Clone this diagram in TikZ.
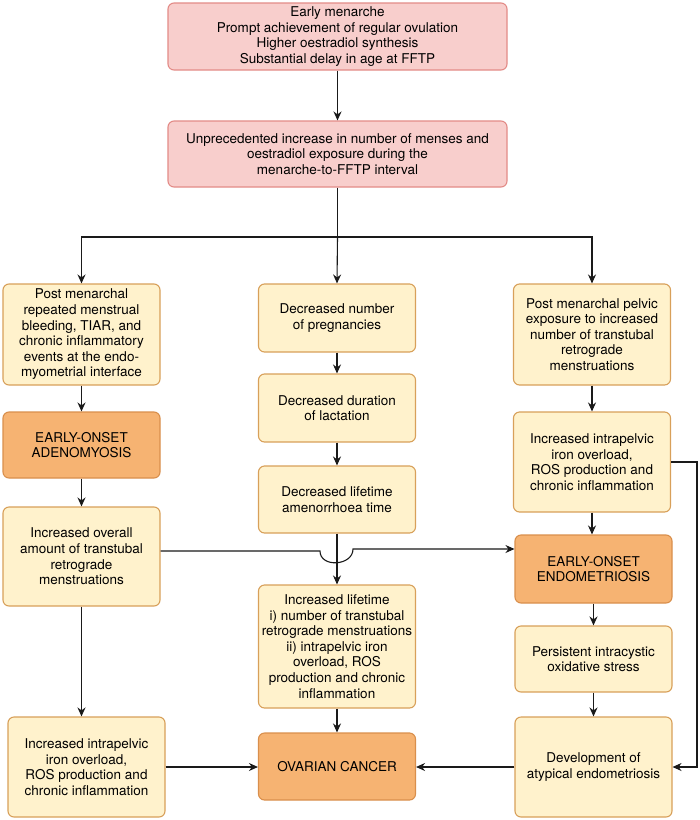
\documentclass[tikz,border=0pt]{standalone}
\usepackage{fontspec}
\setmainfont{TeX Gyre Heros}
\usetikzlibrary{arrows.meta}
\definecolor{pinkfill}{HTML}{F8CECC}
\definecolor{pinkdraw}{HTML}{E38B87}
\definecolor{yelfill}{HTML}{FFF2CC}
\definecolor{yeldraw}{HTML}{D8A05A}
\definecolor{orafill}{HTML}{F6B372}
\definecolor{oradraw}{HTML}{D98F4C}
\definecolor{linec}{HTML}{1A1A1A}
\tikzset{
  box/.style={rectangle, rounded corners=6pt, line width=1.1pt, align=center, inner sep=2pt,
    font=\fontsize{13.5}{15.6}\selectfont, text=black},
  pinkbox/.style={box, fill=pinkfill, draw=pinkdraw, minimum width=339pt},
  yelbox/.style={box, fill=yelfill, draw=yeldraw, minimum width=157pt},
  orabox/.style={box, fill=orafill, draw=oradraw, minimum width=157pt},
  conn/.style={draw=linec, line width=1.1pt},
  arr/.style={conn, -{Stealth[length=9pt,width=8pt]}}
}
\begin{document}
\begin{tikzpicture}[x=1pt,y=-1pt]
\useasboundingbox (0,0) rectangle (700,820);
\fill[white] (0,0) rectangle (700,820);

\node[pinkbox, minimum height=67pt] (b1) at (337.5,36.5) {Early menarche\\Prompt achievement of regular ovulation\\Higher oestradiol synthesis\\Substantial delay in age at FFTP};
\node[pinkbox, minimum height=66pt] (b2) at (337.5,154) {Unprecedented increase in number of menses and\\oestradiol exposure during the\\menarche-to-FFTP interval};

\node[yelbox, minimum height=101pt] (L1) at (81.5,334.5) {Post menarchal\\repeated menstrual\\bleeding, TIAR, and\\chronic inflammatory\\events at the endo-\\myometrial interface};
\node[orabox, minimum height=66pt] (L2) at (81.5,445) {EARLY-ONSET\\ADENOMYOSIS};
\node[yelbox, minimum height=99pt] (L3) at (81.5,556.5) {Increased overall\\amount of transtubal\\retrograde\\menstruations};
\node[yelbox, minimum height=100pt] (L4) at (86.5,767) {Increased intrapelvic\\iron overload,\\ROS production and\\chronic inflammation};

\node[yelbox, minimum height=68pt] (M1) at (337,318) {Decreased number\\of pregnancies};
\node[yelbox, minimum height=68pt] (M2) at (337,408) {Decreased duration\\of lactation};
\node[yelbox, minimum height=67pt] (M3) at (337,499.5) {Decreased lifetime\\amenorrhoea time};
\node[yelbox, minimum height=123pt] (M4) at (337,646.5) {Increased lifetime\\i) number of transtubal\\retrograde menstruations\\ii) intrapelvic iron\\overload, ROS\\production and chronic\\inflammation};
\node[orabox, minimum height=67pt] (M5) at (337,766.5) {OVARIAN CANCER};

\node[yelbox, minimum height=101pt] (R1) at (592,334.5) {Post menarchal pelvic\\exposure to increased\\number of transtubal\\retrograde\\menstruations};
\node[yelbox, minimum height=100pt] (R2) at (592,462) {Increased intrapelvic\\iron overload,\\ROS production and\\chronic inflammation};
\node[orabox, minimum height=68pt] (R3) at (593.5,569) {EARLY-ONSET\\ENDOMETRIOSIS};
\node[yelbox, minimum height=66pt] (R4) at (593.5,659) {Persistent intracystic\\oxidative stress};
\node[yelbox, minimum height=100pt] (R5) at (593.5,767) {Development of\\atypical endometriosis};

% connectors
\draw[arr] (b1.south) -- (b2.north);
\coordinate (j) at (337.5,237);
\draw[conn] (b2.south) -- (j);
\draw[arr] (j) -| (L1.north);
\draw[arr] (j) -| (R1.north);
\draw[arr] (j) -- (M1.north);

\draw[arr] (L1.south) -- (L1.south |- L2.north);
\draw[arr] (L2.south) -- (L2.south |- L3.north);
\draw[arr] (L3.south) -- (L3.south |- L4.north);

\draw[arr] (M1.south) -- (M2.north);
\draw[arr] (M2.south) -- (M3.north);
\draw[arr] (M3.south) -- (M3.south |- M4.north);
\draw[arr] (M4.south) -- (M4.south |- M5.north);

\draw[arr] (R1.south) -- (R1.south |- R2.north);
\draw[arr] (R2.south) -- (R2.south |- R3.north);
\draw[arr] (R3.south) -- (R3.south |- R4.north);
\draw[arr] (R4.south) -- (R4.south |- R5.north);

\coordinate (h1) at (320,551);
\coordinate (h2) at (353,549);
\draw[arr] (L3.east |- h1) -- (h1) .. controls (320,568) and (353,566) .. (h2) -- (R3.west |- h2);

\coordinate (rc1) at (697,462);
\coordinate (rc2) at (697,767);
\draw[arr] (R2.east) -- (rc1) -- (rc2) -- (R5.east);

\draw[arr] (L4.east) -- (L4.east -| M5.west);
\draw[arr] (R5.west) -- (R5.west -| M5.east);
\end{tikzpicture}
\end{document}
